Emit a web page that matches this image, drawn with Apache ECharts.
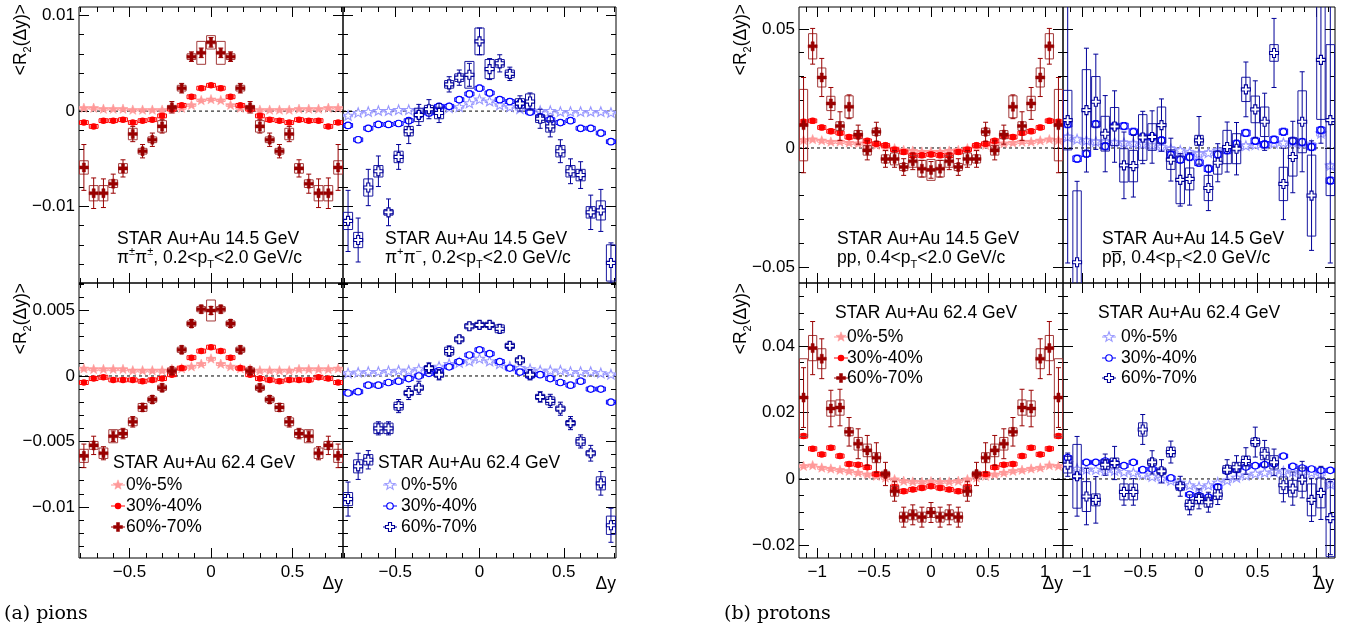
<!DOCTYPE html>
<html>
<head>
<meta charset="utf-8">
<script src="https://cdn.jsdelivr.net/npm/echarts@6/dist/echarts.min.js"></script>
<style>
html, body { margin: 0; background: #fff; }
#chart { width: 1357px; height: 630px; }
</style>
</head>
<body>
<div id="chart"></div>
<script>
// bin centres (Δy)
const pionDy = [-0.78, -0.72, -0.66, -0.6, -0.54, -0.48, -0.42, -0.36, -0.3, -0.24, -0.18, -0.12, -0.06, 0,
    0.06, 0.12, 0.18, 0.24, 0.3, 0.36, 0.42, 0.48, 0.54, 0.6, 0.66, 0.72, 0.78];
const protonDy = [-1.12, -1.04, -0.96, -0.88, -0.8, -0.72, -0.64, -0.56, -0.48, -0.4, -0.32, -0.24, -0.16, -0.08, 0,
    0.08, 0.16, 0.24, 0.32, 0.4, 0.48, 0.56, 0.64, 0.72, 0.8, 0.88, 0.96, 1.04, 1.12];

// pions, 14.5 GeV, like-sign
const pi14ls_c0 = [0.0003, 0.0003, 0.0002, 0.0002, 0.0002, 0.0001, 0.0001, 0.0001, 0.0001, 0.0002, 0.0003, 0.0006, 0.0011, 0.0012,
    0.0011, 0.0006, 0.0003, 0.0002, 0.0001, 0.0001, 0.0001, 0.0001, 0.0002, 0.0002, 0.0002, 0.0003, 0.0003];
const pi14ls_c30 = [-0.0012, -0.0016, -0.0010, -0.0010, -0.0009, -0.0012, -0.0010, -0.0009, -0.0005, 0.0002, 0.0006, 0.0015, 0.0024, 0.0027,
    0.0024, 0.0015, 0.0006, 0.0002, -0.0005, -0.0009, -0.0010, -0.0012, -0.0009, -0.0010, -0.0010, -0.0016, -0.0012];
const pi14ls_c60 = [-0.0059, -0.0086, -0.0086, -0.0076, -0.0060, -0.0024, -0.0042, -0.0030, -0.0016, 0.0004, 0.0024, 0.0057, 0.0061, 0.0072,
    0.0061, 0.0057, 0.0024, 0.0004, -0.0016, -0.0030, -0.0042, -0.0024, -0.0060, -0.0076, -0.0086, -0.0086, -0.0059];
const pi14ls_c60_err = [0.0024, 0.0016, 0.0015, 0.0010, 0.0009, 0.0008, 0.0007, 0.0007, 0.0007, 0.0006, 0.0005, 0.0005, 0.0005, 0.0005,
    0.0005, 0.0005, 0.0005, 0.0006, 0.0007, 0.0007, 0.0007, 0.0008, 0.0009, 0.0010, 0.0015, 0.0016, 0.0024];
const pi14ls_c60_sys = [0.0007, 0.0008, 0.0008, 0.0004, 0.0005, 0.0006, 0.0003, 0.0003, 0.0006, 0.0002, 0.0003, 0.0003, 0.0012, 0.0007,
    0.0012, 0.0003, 0.0003, 0.0002, 0.0006, 0.0003, 0.0003, 0.0006, 0.0005, 0.0004, 0.0008, 0.0008, 0.0007];

// pions, 14.5 GeV, unlike-sign
const pi14us_c0 = [-0.0005, -0.0002, -0.0001, 0.0000, 0.0000, 0.0001, 0.0001, 0.0001, 0.0002, 0.0002, 0.0003, 0.0004, 0.0008, 0.0012,
    0.0010, 0.0006, 0.0004, 0.0002, 0.0001, 0.0000, 0.0000, -0.0001, -0.0001, -0.0001, -0.0001, -0.0001, -0.0002];
const pi14us_c30 = [-0.0015, -0.0030, -0.0018, -0.0014, -0.0014, -0.0013, -0.0010, -0.0004, -0.0002, 0.0005, 0.0005, 0.0012, 0.0018, 0.0024,
    0.0019, 0.0012, 0.0010, 0.0008, -0.0001, -0.0006, -0.0009, -0.0012, -0.0010, -0.0018, -0.0018, -0.0023, -0.0032];
const pi14us_c60 = [-0.0115, -0.0135, -0.0080, -0.0063, -0.0106, -0.0048, -0.0021, -0.0004, 0.0002, -0.0002, 0.0028, 0.0035, 0.0038, 0.0073,
    0.0044, 0.0050, 0.0039, 0.0008, 0.0010, -0.0008, -0.0016, -0.0042, -0.0063, -0.0067, -0.0106, -0.0104, -0.0159];
const pi14us_c60_err = [0.0032, 0.0023, 0.0019, 0.0016, 0.0014, 0.0013, 0.0013, 0.0011, 0.0010, 0.0010, 0.0008, 0.0008, 0.0012, 0.0014,
    0.0011, 0.0009, 0.0007, 0.0008, 0.0009, 0.0010, 0.0011, 0.0012, 0.0013, 0.0014, 0.0018, 0.0022, 0.0021];
const pi14us_c60_sys = [0.0009, 0.0008, 0.0009, 0.0006, 0.0003, 0.0006, 0.0005, 0.0007, 0.0004, 0.0006, 0.0004, 0.0004, 0.0014, 0.0014,
    0.0010, 0.0004, 0.0004, 0.0005, 0.0008, 0.0004, 0.0006, 0.0006, 0.0006, 0.0006, 0.0006, 0.0010, 0.0019];

// pions, 62.4 GeV, like-sign
const pi62ls_c0 = [0.00055, 0.0005, 0.0005, 0.0005, 0.0005, 0.0004, 0.0004, 0.0004, 0.0004, 0.0005, 0.00055, 0.0007, 0.0009, 0.0013,
    0.0009, 0.0007, 0.00055, 0.0005, 0.0004, 0.0004, 0.0004, 0.0004, 0.0005, 0.0005, 0.0005, 0.0005, 0.00055];
const pi62ls_c30 = [-0.0005, -0.0002, -0.0001, -0.0003, -0.0003, -0.0003, -0.0004, -0.0003, -0.0002, 0.0001, 0.0006, 0.0014, 0.0019, 0.0022,
    0.0019, 0.0014, 0.0006, 0.0001, -0.0002, -0.0003, -0.0004, -0.0003, -0.0003, -0.0003, -0.0001, -0.0002, -0.0005];
const pi62ls_c60 = [-0.0061, -0.0053, -0.0059, -0.0046, -0.0044, -0.0035, -0.0024, -0.0018, -0.0009, 0.0004, 0.0020, 0.0040, 0.0051, 0.0050,
    0.0051, 0.0040, 0.0020, 0.0004, -0.0009, -0.0018, -0.0024, -0.0035, -0.0044, -0.0046, -0.0059, -0.0053, -0.0061];
const pi62ls_c60_err = [0.0009, 0.0007, 0.0005, 0.0004, 0.0004, 0.0004, 0.0003, 0.0003, 0.0003, 0.0003, 0.0003, 0.0003, 0.0003, 0.0003,
    0.0003, 0.0003, 0.0003, 0.0003, 0.0003, 0.0003, 0.0003, 0.0004, 0.0004, 0.0004, 0.0005, 0.0007, 0.0009];
const pi62ls_c60_sys = [0.0005, 0.0003, 0.0004, 0.0005, 0.0003, 0.0003, 0.0003, 0.0002, 0.0002, 0.0002, 0.0002, 0.0002, 0.0002, 0.0008,
    0.0002, 0.0002, 0.0002, 0.0002, 0.0002, 0.0002, 0.0003, 0.0003, 0.0003, 0.0005, 0.0004, 0.0003, 0.0005];

// pions, 62.4 GeV, unlike-sign
const pi62us_c0 = [0.0002, 0.00025, 0.0003, 0.0003, 0.00035, 0.0004, 0.0004, 0.0005, 0.0006, 0.0007, 0.0009, 0.0010, 0.0011, 0.0013,
    0.0011, 0.0009, 0.0007, 0.0006, 0.0005, 0.0004, 0.0004, 0.0004, 0.0003, 0.0003, 0.0003, 0.0002, 0.0001];
const pi62us_c30 = [-0.0013, -0.0012, -0.0007, -0.0007, -0.0005, -0.0004, -0.0002, 0.0000, 0.0002, 0.0004, 0.0007, 0.0011, 0.0016, 0.0020,
    0.0017, 0.0011, 0.0006, 0.0003, 0.0000, 0.0001, -0.0002, -0.0005, -0.0007, -0.0004, -0.0010, -0.0010, -0.0020];
const pi62us_c60 = [-0.0094, -0.0069, -0.0064, -0.0040, -0.0040, -0.0023, -0.0013, -0.0009, 0.0006, 0.0001, 0.0019, 0.0028, 0.0038, 0.0039,
    0.0039, 0.0036, 0.0023, 0.0012, 0.0001, -0.0016, -0.0019, -0.0025, -0.0036, -0.0050, -0.0059, -0.0082, -0.0114];
const pi62us_c60_err = [0.0013, 0.0010, 0.0007, 0.0005, 0.0005, 0.0005, 0.0005, 0.0005, 0.0004, 0.0004, 0.0004, 0.0003, 0.0003, 0.0003,
    0.0003, 0.0003, 0.0003, 0.0003, 0.0004, 0.0004, 0.0005, 0.0005, 0.0005, 0.0005, 0.0006, 0.0009, 0.0013];
const pi62us_c60_sys = [0.0005, 0.0005, 0.0004, 0.0004, 0.0004, 0.0003, 0.0002, 0.0002, 0.0002, 0.0002, 0.0003, 0.0002, 0.0002, 0.0002,
    0.0002, 0.0003, 0.0002, 0.0002, 0.0002, 0.0002, 0.0003, 0.0002, 0.0002, 0.0003, 0.0002, 0.0005, 0.0007];

// protons, 14.5 GeV, pp
const pr14pp_c0 = [0.0032, 0.0035, 0.0030, 0.0025, 0.0025, 0.0021, 0.0018, 0.0015, 0.0011, 0.0004, -0.0003, -0.0010, -0.0013, -0.0017, -0.0017,
    -0.0017, -0.0013, -0.0010, -0.0003, 0.0004, 0.0011, 0.0015, 0.0018, 0.0021, 0.0025, 0.0025, 0.0030, 0.0035, 0.0032];
const pr14pp_c30 = [0.0110, 0.0114, 0.0086, 0.0070, 0.0063, 0.0046, 0.0049, 0.0030, 0.0018, 0.0011, -0.0007, -0.0017, -0.0032, -0.0031, -0.0027,
    -0.0031, -0.0032, -0.0017, -0.0007, 0.0011, 0.0018, 0.0030, 0.0049, 0.0046, 0.0063, 0.0070, 0.0086, 0.0114, 0.0110];
const pr14pp_c60 = [0.0096, 0.0427, 0.0296, 0.0187, 0.0092, 0.0173, 0.0056, -0.0010, 0.0068, -0.0046, -0.0046, -0.0080, -0.0056, -0.0087, -0.0092,
    -0.0087, -0.0056, -0.0080, -0.0046, -0.0046, 0.0068, -0.0010, 0.0056, 0.0173, 0.0092, 0.0187, 0.0296, 0.0427, 0.0096];
const pr14pp_c60_err = [0.0200, 0.0075, 0.0080, 0.0067, 0.0060, 0.0050, 0.0040, 0.0040, 0.0040, 0.0035, 0.0035, 0.0035, 0.0035, 0.0035, 0.0035,
    0.0035, 0.0035, 0.0035, 0.0035, 0.0035, 0.0040, 0.0040, 0.0040, 0.0050, 0.0060, 0.0067, 0.0080, 0.0075, 0.0200];
const pr14pp_c60_sys = [0.0150, 0.0053, 0.0040, 0.0030, 0.0018, 0.0046, 0.0017, 0.0020, 0.0015, 0.0017, 0.0025, 0.0015, 0.0025, 0.0035, 0.0044,
    0.0035, 0.0025, 0.0015, 0.0025, 0.0017, 0.0015, 0.0020, 0.0017, 0.0046, 0.0018, 0.0030, 0.0040, 0.0053, 0.0150];

// protons, 14.5 GeV, p-pbar
const pr14pb_c0 = [0.0045, 0.0035, 0.0030, 0.0025, 0.0025, 0.0022, 0.0020, 0.0018, 0.0015, 0.0010, 0.0003, -0.0005, -0.0012, -0.0020, -0.0025,
    -0.0022, -0.0012, -0.0005, 0.0002, 0.0008, 0.0012, 0.0015, 0.0018, 0.0020, 0.0022, 0.0018, 0.0012, 0.0060, -0.0075];
const pr14pb_c30 = [0.0100, -0.0045, -0.0024, 0.0100, 0.0007, 0.0092, 0.0092, 0.0068, 0.0046, 0.0046, 0.0032, -0.0028, -0.0049, -0.0038, -0.0062,
    -0.0087, -0.0027, -0.0010, 0.0018, 0.0063, 0.0030, 0.0015, 0.0035, 0.0068, 0.0030, 0.0025, 0.0004, 0.0075, -0.0137];
const pr14pb_c60 = [0.0117, -0.0480, 0.0159, 0.0194, 0.0060, 0.0090, -0.0073, -0.0076, 0.0044, 0.0046, 0.0096, -0.0049, -0.0134, -0.0130, 0.0032,
    -0.0168, -0.0062, 0.0004, -0.0003, 0.0246, 0.0162, 0.0110, 0.0399, -0.0151, -0.0038, 0.0110, -0.0200, 0.0370, 0.0117];
const pr14pb_c60_err = [0.0600, 0.0340, 0.0260, 0.0200, 0.0160, 0.0150, 0.0140, 0.0130, 0.0110, 0.0110, 0.0110, 0.0090, 0.0110, 0.0110, 0.0100,
    0.0095, 0.0080, 0.0105, 0.0110, 0.0115, 0.0120, 0.0120, 0.0145, 0.0150, 0.0150, 0.0210, 0.0230, 0.0350, 0.0600];
const pr14pb_c60_sys = [0.0125, 0.0300, 0.0170, 0.0106, 0.0073, 0.0080, 0.0070, 0.0066, 0.0096, 0.0056, 0.0076, 0.0041, 0.0100, 0.0046, 0.0021,
    0.0053, 0.0048, 0.0070, 0.0063, 0.0051, 0.0056, 0.0062, 0.0035, 0.0070, 0.0080, 0.0130, 0.0170, 0.0250, 0.0317];

// protons, 62.4 GeV, pp
const pr62pp_c0 = [0.0038, 0.0040, 0.0033, 0.0030, 0.0026, 0.0023, 0.0018, 0.0013, 0.0008, 0.0003, -0.0002, -0.0007, -0.0009, -0.0010, -0.0008,
    -0.0010, -0.0009, -0.0007, -0.0002, 0.0003, 0.0008, 0.0013, 0.0018, 0.0023, 0.0026, 0.0030, 0.0033, 0.0040, 0.0038];
const pr62pp_c30 = [0.0129, 0.0091, 0.0074, 0.0094, 0.0069, 0.0045, 0.0043, 0.0035, 0.0015, 0.0013, -0.0024, -0.0037, -0.0032, -0.0027, -0.0022,
    -0.0027, -0.0032, -0.0037, -0.0024, 0.0013, 0.0015, 0.0035, 0.0043, 0.0045, 0.0069, 0.0094, 0.0074, 0.0091, 0.0129];
const pr62pp_c60 = [0.0245, 0.0394, 0.0362, 0.0212, 0.0215, 0.0142, 0.0106, 0.0086, 0.0064, 0.0015, -0.0037, -0.0115, -0.0108, -0.0115, -0.0101,
    -0.0115, -0.0108, -0.0115, -0.0037, 0.0015, 0.0064, 0.0086, 0.0106, 0.0142, 0.0215, 0.0212, 0.0362, 0.0394, 0.0245];
const pr62pp_c60_err = [0.0090, 0.0080, 0.0060, 0.0055, 0.0055, 0.0043, 0.0045, 0.0045, 0.0045, 0.0035, 0.0030, 0.0030, 0.0030, 0.0030, 0.0030,
    0.0030, 0.0030, 0.0030, 0.0030, 0.0035, 0.0045, 0.0045, 0.0045, 0.0043, 0.0055, 0.0055, 0.0060, 0.0080, 0.0090];
const pr62pp_c60_sys = [0.0117, 0.0038, 0.0030, 0.0023, 0.0023, 0.0012, 0.0019, 0.0019, 0.0015, 0.0008, 0.0015, 0.0015, 0.0015, 0.0015, 0.0015,
    0.0015, 0.0015, 0.0015, 0.0015, 0.0008, 0.0015, 0.0019, 0.0019, 0.0012, 0.0023, 0.0023, 0.0030, 0.0038, 0.0117];

// protons, 62.4 GeV, p-pbar
const pr62pb_c0 = [0.0048, 0.0030, 0.0028, 0.0027, 0.0025, 0.0024, 0.0020, 0.0018, 0.0012, 0.0006, 0.0000, -0.0006, -0.0012, -0.0020, -0.0025,
    -0.0020, -0.0012, -0.0005, 0.0003, 0.0010, 0.0015, 0.0018, 0.0020, 0.0022, 0.0020, 0.0018, 0.0018, 0.0015, -0.0017];
const pr62pb_c30 = [0.0064, 0.0008, 0.0050, 0.0050, 0.0054, 0.0048, 0.0040, 0.0050, 0.0028, 0.0030, 0.0023, 0.0003, -0.0024, -0.0047, -0.0050,
    -0.0055, -0.0024, 0.0023, 0.0028, 0.0036, 0.0040, 0.0043, 0.0046, 0.0069, 0.0038, 0.0033, 0.0030, 0.0026, 0.0026];
const pr62pb_c60 = [0.0043, 0.0008, -0.0053, -0.0063, 0.0043, 0.0048, -0.0039, -0.0039, 0.0149, 0.0050, 0.0023, 0.0081, -0.0022, -0.0078, -0.0060,
    -0.0070, -0.0047, 0.0028, 0.0035, 0.0054, 0.0111, 0.0076, 0.0050, -0.0019, -0.0029, -0.0002, -0.0063, -0.0042, -0.0118];
const pr62pb_c60_err = [0.0035, 0.0120, 0.0085, 0.0070, 0.0032, 0.0050, 0.0040, 0.0040, 0.0045, 0.0035, 0.0035, 0.0033, 0.0030, 0.0030, 0.0030,
    0.0030, 0.0030, 0.0030, 0.0035, 0.0040, 0.0045, 0.0040, 0.0040, 0.0050, 0.0050, 0.0055, 0.0065, 0.0080, 0.0110];
const pr62pb_c60_sys = [0.0025, 0.0096, 0.0045, 0.0018, 0.0015, 0.0015, 0.0024, 0.0024, 0.0020, 0.0010, 0.0010, 0.0015, 0.0012, 0.0015, 0.0015,
    0.0015, 0.0015, 0.0012, 0.0015, 0.0015, 0.0012, 0.0018, 0.0020, 0.0025, 0.0025, 0.0035, 0.0048, 0.0045, 0.0116];

const centLabels = ['0%-5%', '30%-40%', '60%-70%'];

const FONT = '"Liberation Sans", Arial, sans-serif';
const STY = {
    pink:  { color: '#ff9999', box: '#ff9999', marker: 'star',   filled: true,  size: 9 },
    red:   { color: '#ff0000', box: '#ff0000', marker: 'circle', filled: true,  size: 6.5 },
    dred:  { color: '#990000', box: '#a33a3a', marker: 'cross',  filled: true,  size: 9 },
    lav:   { color: '#9999ff', box: '#9999ff', marker: 'star',   filled: false, size: 9 },
    blue:  { color: '#0000ff', box: '#0000ff', marker: 'circle', filled: false, size: 6.5 },
    dblue: { color: '#000099', box: '#1a1aa0', marker: 'cross',  filled: false, size: 9 }
};
const likeSty = [STY.pink, STY.red, STY.dred];
const unlikeSty = [STY.lav, STY.blue, STY.dblue];

// panel layout: [left, top, width, height]
const panels = [
    { box: [79, 7, 264, 276], xr: [-0.81, 0.81], yr: [-0.018, 0.0109], xs: [0.5, 0.1], ys: [0.01, 0.002], xl: false, yl: true, dy: pionDy, bw: 0.054, sty: likeSty,
      sets: [[pi14ls_c0, 0.00008, 0.0001], [pi14ls_c30, 0.0002, 0.0002], [pi14ls_c60, pi14ls_c60_err, pi14ls_c60_sys]] },
    { box: [343, 7, 273, 276], xr: [-0.81, 0.81], yr: [-0.018, 0.0109], xs: [0.5, 0.1], ys: [0.01, 0.002], xl: false, yl: false, dy: pionDy, bw: 0.054, sty: unlikeSty,
      sets: [[pi14us_c0, 0.0001, 0.0001], [pi14us_c30, 0.0003, 0.0002], [pi14us_c60, pi14us_c60_err, pi14us_c60_sys]] },
    { box: [79, 283, 264, 275], xr: [-0.81, 0.81], yr: [-0.0139, 0.0071], xs: [0.5, 0.1], ys: [0.005, 0.001], xl: true, yl: true, dy: pionDy, bw: 0.054, sty: likeSty,
      sets: [[pi62ls_c0, 0.00005, 0.0001], [pi62ls_c30, 0.0001, 0.00015], [pi62ls_c60, pi62ls_c60_err, pi62ls_c60_sys]] },
    { box: [343, 283, 273, 275], xr: [-0.81, 0.81], yr: [-0.0139, 0.0071], xs: [0.5, 0.1], ys: [0.005, 0.001], xl: true, yl: false, dy: pionDy, bw: 0.054, sty: unlikeSty,
      sets: [[pi62us_c0, 0.00005, 0.0001], [pi62us_c30, 0.0001, 0.00015], [pi62us_c60, pi62us_c60_err, pi62us_c60_sys]] },
    { box: [799, 7, 264, 276], xr: [-1.16, 1.16], yr: [-0.0567, 0.0592], xs: [0.5, 0.1], ys: [0.05, 0.01], xl: false, yl: true, dy: protonDy, bw: 0.072, sty: likeSty,
      sets: [[pr14pp_c0, 0.0005, 0.0006], [pr14pp_c30, 0.001, 0.0008], [pr14pp_c60, pr14pp_c60_err, pr14pp_c60_sys]] },
    { box: [1063, 7, 272, 276], xr: [-1.16, 1.16], yr: [-0.0567, 0.0592], xs: [0.5, 0.1], ys: [0.05, 0.01], xl: false, yl: false, dy: protonDy, bw: 0.072, sty: unlikeSty,
      sets: [[pr14pb_c0, 0.0008, 0.001], [pr14pb_c30, 0.0015, 0.0012], [pr14pb_c60, pr14pb_c60_err, pr14pb_c60_sys]] },
    { box: [799, 283, 264, 275], xr: [-1.16, 1.16], yr: [-0.0238, 0.059], xs: [0.5, 0.1], ys: [0.02, 0.005], xl: true, yl: true, dy: protonDy, bw: 0.072, sty: likeSty,
      sets: [[pr62pp_c0, 0.0003, 0.0004], [pr62pp_c30, 0.0006, 0.0006], [pr62pp_c60, pr62pp_c60_err, pr62pp_c60_sys]] },
    { box: [1063, 283, 272, 275], xr: [-1.16, 1.16], yr: [-0.0238, 0.059], xs: [0.5, 0.1], ys: [0.02, 0.005], xl: true, yl: false, dy: protonDy, bw: 0.072, sty: unlikeSty,
      sets: [[pr62pb_c0, 0.0004, 0.0005], [pr62pb_c30, 0.0006, 0.0006], [pr62pb_c60, pr62pb_c60_err, pr62pb_c60_sys]] }
];

function tickList(lo, hi, step) {
    const out = [];
    for (let k = Math.ceil(lo / step - 1e-9); k * step <= hi + 1e-9; k++) out.push(+(k * step).toFixed(6));
    return out;
}
function fmt(v) {
    return String(+v.toFixed(6)).replace('-', '\u2212');
}

// marker drawn at pixel centre (used by series and by the legends)
function markerShape(st, cx, cy) {
    const fill = st.filled ? st.color : '#fff';
    const s = st.size;
    if (st.marker === 'circle') {
        return { type: 'circle', shape: { cx: cx, cy: cy, r: s / 2 }, style: { fill: fill, stroke: st.color, lineWidth: st.filled ? 0 : 1.2 } };
    }
    let pts = [];
    if (st.marker === 'star') {
        for (let k = 0; k < 10; k++) {
            const r = k % 2 ? s * 0.24 : s * 0.58;
            const a = -Math.PI / 2 + k * Math.PI / 5;
            pts.push([cx + r * Math.cos(a), cy + r * Math.sin(a)]);
        }
    } else {
        const h = s / 2, a = s * 0.17;
        pts = [[cx - a, cy - h], [cx + a, cy - h], [cx + a, cy - a], [cx + h, cy - a], [cx + h, cy + a], [cx + a, cy + a],
            [cx + a, cy + h], [cx - a, cy + h], [cx - a, cy + a], [cx - h, cy + a], [cx - h, cy - a], [cx - a, cy - a]];
    }
    return { type: 'polygon', shape: { points: pts }, style: { fill: fill, stroke: st.color, lineWidth: st.filled ? 0.5 : 1.1 } };
}

function drawPoint(st, bw) {
    return function (params, api) {
        const x = api.value(0), y = api.value(1), e = api.value(2), s = api.value(3);
        const c = api.coord([x, y]);
        const eTop = api.coord([x, y + e])[1], eBot = api.coord([x, y - e])[1];
        const b1 = api.coord([x - bw / 2, y + s]), b2 = api.coord([x + bw / 2, y - s]);
        const cap = 2.5;
        return {
            type: 'group',
            children: [
                { type: 'rect', shape: { x: b1[0], y: b1[1], width: b2[0] - b1[0], height: Math.max(b2[1] - b1[1], 1.5) },
                  style: { fill: 'none', stroke: st.box, lineWidth: 1 } },
                { type: 'line', shape: { x1: c[0], y1: eTop, x2: c[0], y2: eBot }, style: { stroke: st.color, lineWidth: 1 } },
                { type: 'line', shape: { x1: c[0] - cap, y1: eTop, x2: c[0] + cap, y2: eTop }, style: { stroke: st.color, lineWidth: 1 } },
                { type: 'line', shape: { x1: c[0] - cap, y1: eBot, x2: c[0] + cap, y2: eBot }, style: { stroke: st.color, lineWidth: 1 } },
                markerShape(st, c[0], c[1])
            ]
        };
    };
}

const grids = [], xAxes = [], yAxes = [], series = [];

function addAxes(list, dim, gi, range, majors, minors, labels) {
    const pos = dim === 'x' ? ['bottom', 'top'] : ['left', 'right'];
    const first = list.length;
    pos.forEach(function (p, side) {
        [majors, minors].forEach(function (vals, m) {
            list.push({
                type: 'value', gridIndex: gi, position: p, min: range[0], max: range[1],
                splitLine: { show: false },
                axisLine: { show: false, onZero: false },
                axisTick: { show: true, inside: true, length: m ? 5 : 10, customValues: vals, lineStyle: { color: '#000', width: 1 } },
                axisLabel: { show: labels && side === 0 && m === 0, customValues: majors, formatter: fmt,
                    margin: dim === 'x' ? 6 : 4, color: '#000', fontFamily: FONT, fontSize: 17 }
            });
        });
    });
    return first;
}

panels.forEach(function (p, gi) {
    grids.push({ left: p.box[0], top: p.box[1], width: p.box[2], height: p.box[3], show: true,
        borderColor: '#000', borderWidth: 1, backgroundColor: 'transparent' });
    const xi = addAxes(xAxes, 'x', gi, p.xr, tickList(p.xr[0], p.xr[1], p.xs[0]), tickList(p.xr[0], p.xr[1], p.xs[1]), p.xl);
    const yi = addAxes(yAxes, 'y', gi, p.yr, tickList(p.yr[0], p.yr[1], p.ys[0]), tickList(p.yr[0], p.yr[1], p.ys[1]), p.yl);
    series.push({
        type: 'line', xAxisIndex: xi, yAxisIndex: yi, silent: true, z: 1, showSymbol: false,
        data: [[p.xr[0], 0], [p.xr[1], 0]],
        lineStyle: { color: '#000', width: 1, type: [3, 3] }
    });
    p.sets.forEach(function (set, k) {
        const vals = set[0], err = set[1], sys = set[2];
        series.push({
            type: 'custom', name: centLabels[k], xAxisIndex: xi, yAxisIndex: yi, clip: true, silent: true, z: 2 + k,
            encode: { x: 0, y: 1 },
            renderItem: drawPoint(p.sty[k], p.bw),
            data: p.dy.map(function (x, i) {
                return [x, vals[i], Array.isArray(err) ? err[i] : err, Array.isArray(sys) ? sys[i] : sys];
            })
        });
    });
});

// ---- texts ----
const richBase = {
    n: { fontSize: 17.5, fontFamily: FONT, fill: '#000', lineHeight: 24 },
    sup: { fontSize: 11, fontFamily: FONT, fill: '#000', lineHeight: 11, verticalAlign: 'top' },
    sub: { fontSize: 11, fontFamily: FONT, fill: '#000', lineHeight: 11, verticalAlign: 'bottom' }
};
function txt(x, y, text, extra) {
    const el = {
        type: 'text', x: x, y: y, silent: true,
        style: Object.assign({ text: text, rich: richBase, fill: '#000', font: '17.5px ' + FONT,
            align: 'left', textAlign: 'left', verticalAlign: 'middle', textVerticalAlign: 'middle' }, extra || {})
    };
    return el;
}
const graphics = [];

// panel annotations
graphics.push(txt(117, 239, '{n|STAR Au+Au 14.5 GeV}'));
graphics.push(txt(117, 258, '{n|\u03c0}{sup|\u00b1}{n|\u03c0}{sup|\u00b1}{n|, 0.2<p}{sub|T}{n|<2.0 GeV/c}'));
graphics.push(txt(385, 239, '{n|STAR Au+Au 14.5 GeV}'));
graphics.push(txt(385, 258, '{n|\u03c0}{sup|+}{n|\u03c0}{sup|\u2212}{n|, 0.2<p}{sub|T}{n|<2.0 GeV/c}'));
graphics.push(txt(837, 239, '{n|STAR Au+Au 14.5 GeV}'));
graphics.push(txt(837, 258, '{n|pp, 0.4<p}{sub|T}{n|<2.0 GeV/c}'));
graphics.push(txt(1102, 239, '{n|STAR Au+Au 14.5 GeV}'));
graphics.push(txt(1102, 258, '{n|pp\u0305, 0.4<p}{sub|T}{n|<2.0 GeV/c}'));

// legends in the 62.4 GeV panels
function legend(x0, y0, mx, tx, ys, sty) {
    graphics.push(txt(x0, y0, '{n|STAR Au+Au 62.4 GeV}'));
    sty.forEach(function (st, k) {
        graphics.push({ type: 'line', silent: true, shape: { x1: mx - 7, y1: ys[k], x2: mx + 7, y2: ys[k] }, style: { stroke: st.color, lineWidth: 1 } });
        const m = markerShape(st, mx, ys[k]);
        m.silent = true;
        graphics.push(m);
        graphics.push(txt(tx, ys[k], '{n|' + centLabels[k] + '}'));
    });
}
legend(113, 463, 118, 126, [485, 506, 527], likeSty);
legend(378, 463, 390, 401, [485, 506, 527], unlikeSty);
legend(835, 313, 841, 847, [337, 358, 378], likeSty);
legend(1098, 313, 1109, 1121, [337, 358, 378], unlikeSty);

// axis titles
[[21, 4], [21, 283], [741, 4], [741, 283]].forEach(function (pos) {
    graphics.push({
        type: 'text', x: pos[0], y: pos[1], rotation: Math.PI / 2, silent: true,
        style: { text: '{n|<R}{sub|2}{n|(\u0394y)>}', rich: richBase, align: 'right', textAlign: 'right',
            verticalAlign: 'middle', textVerticalAlign: 'middle' }
    });
});
[343, 616, 1063, 1334].forEach(function (x) {
    graphics.push(txt(x, 584, '{n|\u0394y}', { align: 'right', textAlign: 'right' }));
});

// sub-figure captions
graphics.push({ type: 'text', x: 4, y: 614, silent: true,
    style: { text: '(a) pions', font: '19px "DejaVu Serif", serif', fill: '#000', verticalAlign: 'middle', textVerticalAlign: 'middle' } });
graphics.push({ type: 'text', x: 724, y: 614, silent: true,
    style: { text: '(b) protons', font: '19px "DejaVu Serif", serif', fill: '#000', verticalAlign: 'middle', textVerticalAlign: 'middle' } });

const chart = echarts.init(document.getElementById('chart'));
chart.setOption({
    backgroundColor: '#fff',
    animation: false,
    grid: grids,
    xAxis: xAxes,
    yAxis: yAxes,
    series: series,
    graphic: { elements: graphics }
});
</script>
</body>
</html>
